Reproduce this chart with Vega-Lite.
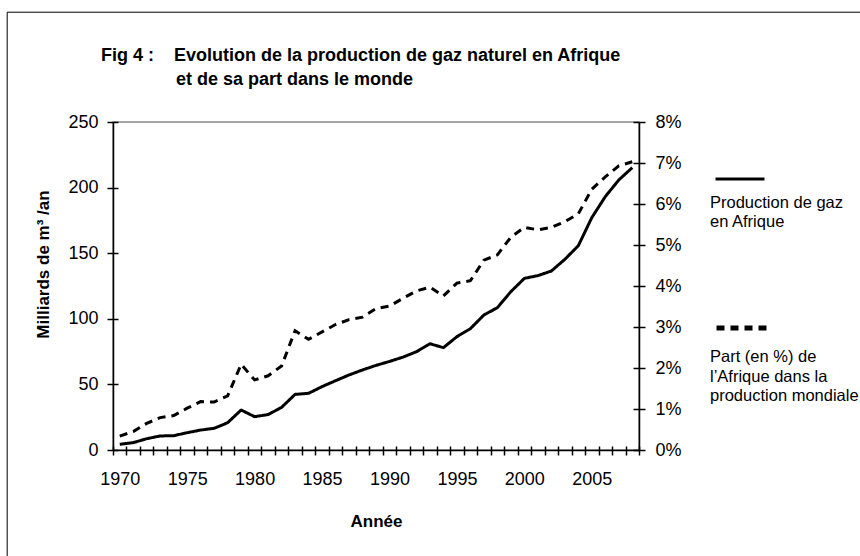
{
  "$schema": "https://vega.github.io/schema/vega-lite/v6.json",
  "width": 526,
  "height": 328,
  "autosize": {"type": "none"},
  "padding": {"left": 113, "top": 122, "right": 221, "bottom": 106},
  "background": "white",
  "title": {
    "text": ["Fig 4 :\u00a0\u00a0\u00a0\u00a0Evolution de la production de gaz naturel en Afrique", "\u200b\u00a0\u00a0\u00a0\u00a0\u00a0\u00a0\u00a0\u00a0\u00a0\u00a0\u00a0\u00a0\u00a0\u00a0\u00a0et de sa part dans le monde"],
    "anchor": "start",
    "frame": "group",
    "dx": -12,
    "offset": -78,
    "font": "Liberation Sans",
    "fontSize": 18,
    "fontWeight": "bold",
    "color": "black",
    "lineHeight": 24
  },
  "data": {
    "values": [
      {"year": 1970, "prod": 4.3, "part": 0.34},
      {"year": 1971, "prod": 5.6, "part": 0.45},
      {"year": 1972, "prod": 8.6, "part": 0.65},
      {"year": 1973, "prod": 10.7, "part": 0.79},
      {"year": 1974, "prod": 10.9, "part": 0.84},
      {"year": 1975, "prod": 13.2, "part": 1.02},
      {"year": 1976, "prod": 15.2, "part": 1.18},
      {"year": 1977, "prod": 16.5, "part": 1.17},
      {"year": 1978, "prod": 20.8, "part": 1.32},
      {"year": 1979, "prod": 30.5, "part": 2.09},
      {"year": 1980, "prod": 25.4, "part": 1.71},
      {"year": 1981, "prod": 27.0, "part": 1.81},
      {"year": 1982, "prod": 32.5, "part": 2.05},
      {"year": 1983, "prod": 42.4, "part": 2.91},
      {"year": 1984, "prod": 43.2, "part": 2.70},
      {"year": 1985, "prod": 48.3, "part": 2.88},
      {"year": 1986, "prod": 52.8, "part": 3.06},
      {"year": 1987, "prod": 57.2, "part": 3.18},
      {"year": 1988, "prod": 61.0, "part": 3.24},
      {"year": 1989, "prod": 64.5, "part": 3.45},
      {"year": 1990, "prod": 67.5, "part": 3.51},
      {"year": 1991, "prod": 70.8, "part": 3.70},
      {"year": 1992, "prod": 74.9, "part": 3.88},
      {"year": 1993, "prod": 81.0, "part": 3.97},
      {"year": 1994, "prod": 78.0, "part": 3.76},
      {"year": 1995, "prod": 86.4, "part": 4.07},
      {"year": 1996, "prod": 92.5, "part": 4.13},
      {"year": 1997, "prod": 102.9, "part": 4.63},
      {"year": 1998, "prod": 108.5, "part": 4.76},
      {"year": 1999, "prod": 120.7, "part": 5.19},
      {"year": 2000, "prod": 130.8, "part": 5.43},
      {"year": 2001, "prod": 132.9, "part": 5.37},
      {"year": 2002, "prod": 136.4, "part": 5.43},
      {"year": 2003, "prod": 145.3, "part": 5.57},
      {"year": 2004, "prod": 155.7, "part": 5.76},
      {"year": 2005, "prod": 177.1, "part": 6.36},
      {"year": 2006, "prod": 193.1, "part": 6.66},
      {"year": 2007, "prod": 205.8, "part": 6.93},
      {"year": 2008, "prod": 215.2, "part": 7.03}
    ]
  },
  "resolve": {
    "scale": {"y": "independent", "strokeDash": "independent", "color": "independent"},
    "axis": {"x": "independent", "y": "independent"}
  },
  "layer": [
    {
      "mark": {"type": "line", "color": "black", "strokeWidth": 3, "strokeJoin": "round"},
      "encoding": {
        "x": {
          "field": "year", "type": "quantitative",
          "scale": {"domain": [1969.5, 2008.5], "nice": false, "zero": false},
          "axis": {
            "orient": "bottom",
            "values": [1969.5, 1970.5, 1971.5, 1972.5, 1973.5, 1974.5, 1975.5, 1976.5, 1977.5, 1978.5, 1979.5, 1980.5, 1981.5, 1982.5, 1983.5, 1984.5, 1985.5, 1986.5, 1987.5, 1988.5, 1989.5, 1990.5, 1991.5, 1992.5, 1993.5, 1994.5, 1995.5, 1996.5, 1997.5, 1998.5, 1999.5, 2000.5, 2001.5, 2002.5, 2003.5, 2004.5, 2005.5, 2006.5, 2007.5, 2008.5],
            "labelExpr": "((datum.value + 0.5) % 5 == 0 && datum.value < 2006) ? format(datum.value + 0.5, 'd') : ''",
            "labelOffset": 6.74,
            "labelOverlap": false,
            "labelFlush": false,
            "labelBound": false,
            "tickSize": 5,
            "labelPadding": 15,
            "labelFontSize": 18,
            "title": "Année",
            "titleFontSize": 17,
            "titleFontWeight": "bold",
            "titleBaseline": "alphabetic",
            "titleY": 76
          }
        },
        "y": {
          "field": "prod", "type": "quantitative",
          "scale": {"domain": [0, 250], "nice": false},
          "axis": {
            "orient": "left",
            "values": [0, 50, 100, 150, 200, 250],
            "tickSize": 6,
            "labelPadding": 9,
            "labelFontSize": 18,
            "title": "Milliards de m³ /an",
            "titleFontSize": 17,
            "titleFontWeight": "bold",
            "titleX": -70,
            "titleY": 142,
            "titleAlign": "center",
            "titleBaseline": "middle"
          }
        },
        "strokeDash": {
          "datum": "Production", "type": "nominal",
          "scale": {"range": [[1, 0]]},
          "legend": {
            "orient": "none", "legendX": 597, "legendY": 31,
            "labelExpr": "''", "labelFontSize": 1,
            "title": ["Production de gaz", "en Afrique"],
            "titleOrient": "bottom", "titleAnchor": "start",
            "titleFontWeight": "normal", "titleFontSize": 16.5, "titleColor": "black",
            "titleLineHeight": 19, "titlePadding": 10,
            "symbolType": "stroke", "symbolSize": 2401, "symbolStrokeWidth": 3,
            "symbolStrokeColor": "black", "symbolOffset": 4, "padding": 0
          }
        }
      }
    },
    {
      "mark": {"type": "line", "color": "black", "strokeWidth": 3},
      "encoding": {
        "x": {
          "field": "year", "type": "quantitative",
          "axis": {
            "orient": "bottom",
            "values": [1969.5, 1970.5, 1971.5, 1972.5, 1973.5, 1974.5, 1975.5, 1976.5, 1977.5, 1978.5, 1979.5, 1980.5, 1981.5, 1982.5, 1983.5, 1984.5, 1985.5, 1986.5, 1987.5, 1988.5, 1989.5, 1990.5, 1991.5, 1992.5, 1993.5, 1994.5, 1995.5, 1996.5, 1997.5, 1998.5, 1999.5, 2000.5, 2001.5, 2002.5, 2003.5, 2004.5, 2005.5, 2006.5, 2007.5, 2008.5],
            "tickSize": -4,
            "labels": false,
            "domain": false,
            "title": null
          }
        },
        "y": {
          "field": "part", "type": "quantitative",
          "scale": {"domain": [0, 8], "nice": false},
          "axis": {
            "orient": "right",
            "values": [0, 1, 2, 3, 4, 5, 6, 7, 8],
            "labelExpr": "datum.value + '%'",
            "tickSize": 6,
            "labelPadding": 10,
            "labelFontSize": 18,
            "title": null
          }
        },
        "strokeDash": {
          "datum": "Part", "type": "nominal",
          "scale": {"range": [[8, 6]]},
          "legend": {
            "orient": "none", "legendX": 597, "legendY": 177,
            "labelExpr": "''", "labelFontSize": 1,
            "title": ["Part (en %) de", "l’Afrique dans la", "production mondiale"],
            "titleOrient": "bottom", "titleAnchor": "start",
            "titleFontWeight": "normal", "titleFontSize": 16.5, "titleColor": "black",
            "titleLineHeight": 19.5, "titlePadding": 11,
            "symbolType": "stroke", "symbolSize": 2809, "symbolStrokeWidth": 5,
            "symbolStrokeColor": "black", "symbolOffset": 4, "padding": 0
          }
        }
      }
    },
    {
      "mark": {"type": "line", "opacity": 0},
      "encoding": {
        "x": {"field": "year", "type": "quantitative", "axis": null},
        "y": {
          "field": "prod", "type": "quantitative",
          "scale": {"domain": [0, 250], "nice": false},
          "axis": {"orient": "left", "values": [0, 50, 100, 150, 200, 250], "tickSize": -5, "labels": false, "domain": false, "title": null}
        },
        "color": {
          "datum": "cadre", "type": "nominal",
          "scale": {"range": ["white"]},
          "legend": {
            "orient": "none", "legendX": -106.3, "legendY": -110.3,
            "padding": 1200, "strokeColor": "#000",
            "labelExpr": "''", "labelFontSize": 1, "title": null, "symbolOpacity": 0
          }
        }
      }
    },
    {
      "mark": {"type": "line", "opacity": 0},
      "encoding": {
        "x": {"field": "year", "type": "quantitative", "axis": null},
        "y": {
          "field": "part", "type": "quantitative",
          "scale": {"domain": [0, 8], "nice": false},
          "axis": {"orient": "right", "values": [0, 1, 2, 3, 4, 5, 6, 7, 8], "tickSize": -6, "labels": false, "domain": false, "title": null}
        }
      }
    }
  ],
  "config": {
    "view": {"stroke": "#888", "strokeWidth": 1.5},
    "font": "Liberation Sans",
    "axis": {
      "domainColor": "black", "tickColor": "black", "labelColor": "black", "titleColor": "black",
      "labelFont": "Liberation Sans", "titleFont": "Liberation Sans",
      "grid": false, "domainWidth": 1.5, "tickWidth": 1.5
    },
    "legend": {"titleFont": "Liberation Sans", "labelFont": "Liberation Sans"}
  }
}
